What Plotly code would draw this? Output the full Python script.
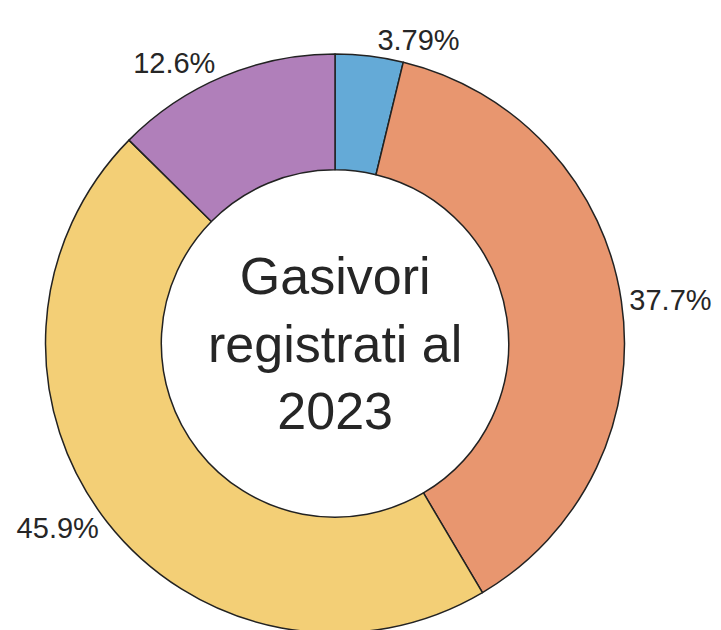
import plotly.graph_objects as go

# quote per categoria (%), in senso orario dall'alto
categorie = ["Categoria A", "Categoria B", "Categoria C", "Categoria D"]
quote = [3.79, 37.7, 45.9, 12.6]
colori = ["#64AAD7", "#E8966F", "#F3CF76", "#B07FBA"]

fig = go.Figure(go.Pie(
	labels=categorie,
	values=quote,
	hole=0.6,
	sort=False,
	direction="clockwise",
	rotation=0,
	textinfo="percent",
	textposition="outside",
	marker=dict(colors=colori, line=dict(color="#222222", width=1.5)),
	textfont=dict(family="Liberation Sans, Arial", size=29, color="#262626"),
	showlegend=False,
))

fig.add_annotation(
	text="Gasivori<br>registrati al<br>2023",
	x=0.5, y=0.5, xref="paper", yref="paper",
	showarrow=False,
	font=dict(family="Liberation Sans, Arial", size=52, color="#262626"),
)

fig.update_layout(
	width=721, height=630,
	margin=dict(l=33, r=103, t=46, b=0),
	paper_bgcolor="white",
	plot_bgcolor="white",
)

fig.write_html("out.html")
